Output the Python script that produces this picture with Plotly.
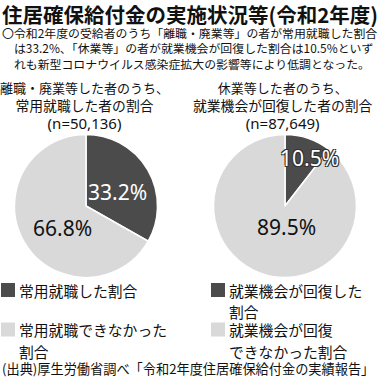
import plotly.graph_objects as go

W, H = 380, 379

title = "住居確保給付金の実施状況等(令和2年度)"
desc_lines = [
    "〇令和2年度の受給者のうち「離職・廃業等」の者が常用就職した割合",
    "は33.2%、「休業等」の者が就業機会が回復した割合は10.5%といず",
    "れも新型コロナウイルス感染症拡大の影響等により低調となった。",
]
left_sub = ["離職・廃業等した者のうち、", "常用就職した者の割合", "(n=50,136)"]
right_sub = ["休業等した者のうち、", "就業機会が回復した者の割合", "(n=87,649)"]

left_labels = ["常用就職した割合", "常用就職できなかった割合"]
left_values = [33.2, 66.8]
right_labels = ["就業機会が回復した割合", "就業機会が回復できなかった割合"]
right_values = [10.5, 89.5]

left_legend_lines = [["常用就職した割合"], ["常用就職できなかった", "割合"]]
right_legend_lines = [["就業機会が回復した", "割合"], ["就業機会が回復", "できなかった割合"]]

source = "(出典)厚生労働省調べ「令和2年度住居確保給付金の実績報告」"

DARK = "#4b4b4b"
LIGHT = "#d9d9d9"
FONT = "Noto Sans CJK JP"


def px(x):
    return x / W


def py(y):
    return 1 - y / H


fig = go.Figure()

for labels, values, cx in [(left_labels, left_values, 86), (right_labels, right_values, 285)]:
    r = 71.5
    fig.add_trace(go.Pie(
        labels=labels, values=values, sort=False, direction="clockwise", rotation=0,
        marker=dict(colors=[DARK, LIGHT], line=dict(color="white", width=1.5)),
        textinfo="none", hoverinfo="label+percent", showlegend=False,
        domain=dict(x=[px(cx - r), px(cx + r)], y=[py(206 + r), py(206 - r)]),
    ))

ann = []


def text(x, y, s, size, color="#111", anchor="center", bold=False, family=FONT,
         shadow=None, yanchor="middle", align=None):
    f = dict(size=size, color=color, family=family)
    if bold:
        f["weight"] = "bold"
    if shadow:
        f["shadow"] = shadow
    a = dict(x=px(x), y=py(y), xref="paper", yref="paper", text=s, showarrow=False,
             xanchor=anchor, yanchor=yanchor, font=f, borderpad=0)
    if align:
        a["align"] = align
    ann.append(a)


text(190, 13.8, title, 20.5, bold=True)

desc = desc_lines[0] + "<br>\u3000" + desc_lines[1] + "<br>\u3000" + desc_lines[2]
text(1, 48.5, desc, 11.9, anchor="left", align="left")

for cx, sub in [(84, left_sub), (283, right_sub)]:
    s = (f"<span style='font-size:13px'>{sub[0]}</span><br>{sub[1]}<br>"
         f"<span style='font-family:Noto Sans;font-size:15px'>{sub[2]}</span>")
    text(cx, 105.5, s, 13.8)

# percentage labels
text(117.5, 192, f"{left_values[0]}%", 21, color="white", family="Noto Sans")
text(62.5, 228, f"{left_values[1]}%", 21, color="#111", family="Noto Sans")
text(309, 158, f"{right_values[0]}%", 21, color="white", family="Noto Sans",
     shadow="1px 1px 0 #333, -1px -1px 0 #333, 1px -1px 0 #333, -1px 1px 0 #333")
text(286.5, 227, f"{right_values[1]}%", 21, color="#111", family="Noto Sans")

# legends
shapes = []
for x0, lines_list in [(1, left_legend_lines), (211, right_legend_lines)]:
    for j, (lines, col) in enumerate(zip(lines_list, [DARK, LIGHT])):
        ytop = 290 if j == 0 else 329.5
        shapes.append(dict(type="rect", xref="paper", yref="paper",
                           x0=px(x0), x1=px(x0 + 14), y0=py(ytop - 7), y1=py(ytop + 7),
                           fillcolor=col, line=dict(width=0)))
        for k, ln in enumerate(lines):
            text(x0 + 17, ytop + 21.5 * k, ln, 14.8, anchor="left")

text(1, 379, source, 13.2, anchor="left", yanchor="bottom")

fig.update_layout(
    width=W, height=H, margin=dict(l=0, r=0, t=0, b=0),
    paper_bgcolor="white", plot_bgcolor="white",
    annotations=ann, shapes=shapes, showlegend=False,
    font=dict(family=FONT),
)

fig.write_html("out.html")
